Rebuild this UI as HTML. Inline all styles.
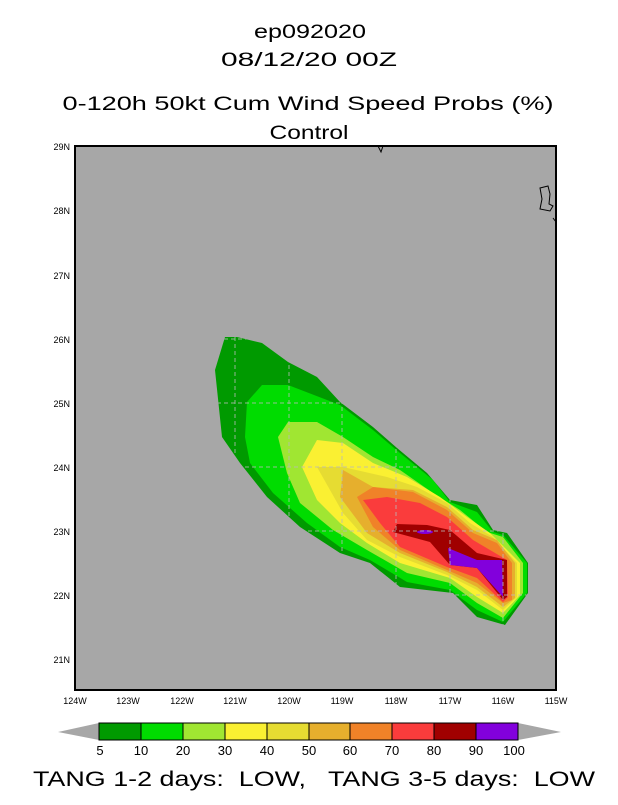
<!DOCTYPE html>
<html><head><style>
body{margin:0;background:#fff;}
svg text{font-family:"Liberation Sans",sans-serif;}
</style></head><body>
<svg width="618" height="800" viewBox="0 0 618 800" xmlns="http://www.w3.org/2000/svg">
<defs>
<clipPath id="c"><polygon points="225,337 237,337 262,343 288,362 317,377 340,402 373,427 397,448 427,473 450,500 477,505 493,530 507,533 528,563 528,593 505,625 477,617 453,593 400,587 370,563 340,553 300,527 267,497 240,463 222,437 215,370"/></clipPath>
</defs>
<rect width="618" height="800" fill="#fff"/>
<g text-anchor="middle" font-size="19" fill="#000" lengthAdjust="spacingAndGlyphs">
<text x="310" y="38" textLength="112" lengthAdjust="spacingAndGlyphs">ep092020</text>
<text x="309" y="66" textLength="176" lengthAdjust="spacingAndGlyphs">08/12/20 00Z</text>
<text x="308" y="110" textLength="491" lengthAdjust="spacingAndGlyphs">0-120h 50kt Cum Wind Speed Probs (%)</text>
<text x="309" y="139" textLength="79" lengthAdjust="spacingAndGlyphs">Control</text>
</g>
<rect x="75" y="146" width="481" height="544" fill="#a7a7a7"/>
<path d="M378,146 l3,6 l2,-6 M540,188 l8,-2 l2,8 l-1,10 l4,2 l-3,5 l-10,-2 l2,-10 z M553,218 l3,4" fill="none" stroke="#000" stroke-width="1"/>
<polygon fill="#009a00" points="225,337 237,337 262,343 288,362 317,377 340,402 373,427 397,448 427,473 450,500 477,505 493,530 507,533 528,563 528,593 505,625 477,617 453,593 400,587 370,563 340,553 300,527 267,497 240,463 222,437 215,370"/>
<polygon fill="#00dc00" points="262,385 288,385 340,405 373,430 400,453 433,480 450,502 477,512 493,532 503,535 527,563 527,593 503,622 477,610 450,590 407,582 370,560 340,547 307,523 273,493 250,463 245,437 247,402"/>
<polygon fill="#a0e632" points="288,422 317,422 343,437 373,457 400,470 433,493 460,510 487,532 503,537 523,563 523,593 503,618 477,603 450,583 407,573 367,550 333,530 300,503 287,473 278,437"/>
<polygon fill="#faf032" points="317,440 343,443 373,463 407,477 440,497 467,517 490,533 520,563 520,595 503,613 477,597 450,578 400,563 367,543 340,523 317,500 302,467"/>
<polygon fill="#e6dc32" points="343,467 387,477 417,487 447,503 470,523 493,537 517,563 517,597 503,610 477,590 447,575 400,557 367,540 343,513 317,467"/>
<polygon fill="#e6af2d" points="343,470 373,487 413,490 447,507 473,530 497,540 515,563 515,598 503,607 477,587 447,572 400,553 367,533 340,497"/>
<polygon fill="#f08228" points="357,497 373,487 413,492 447,510 473,533 497,543 512,563 512,600 503,603 477,583 447,570 400,550 373,527"/>
<polygon fill="#fa3c3c" points="363,500 387,497 420,503 447,517 473,540 507,560 508,597 503,602 477,578 447,567 400,547 380,523"/>
<polygon fill="#a00000" points="397,524 427,525 450,530 477,553 507,560 507,597 503,600 477,568 450,565 430,542 393,532"/>
<polygon fill="#8200dc" points="448,548 477,560 502,560 503,597 477,568 450,565"/>
<ellipse cx="425" cy="532" rx="8" ry="2" fill="#8200dc"/>
<g stroke="#bbbbbb" stroke-width="1" stroke-dasharray="4,3" fill="none" opacity="0.8" clip-path="url(#c)">
<path d="M235,330V640 M289,330V640 M342,330V640 M396,330V640 M450,330V640 M503,330V640"/>
<path d="M210,339H530 M210,403H530 M210,467H530 M210,531H530 M210,595H530"/>
</g>
<rect x="75" y="146" width="481" height="544" fill="none" stroke="#000" stroke-width="2"/>
<g font-size="9" fill="#000" text-anchor="end">
<text x="70" y="150">29N</text><text x="70" y="214">28N</text><text x="70" y="279">27N</text>
<text x="70" y="343">26N</text><text x="70" y="407">25N</text><text x="70" y="471">24N</text>
<text x="70" y="535">23N</text><text x="70" y="599">22N</text><text x="70" y="663">21N</text>
</g>
<g font-size="9" fill="#000" text-anchor="middle">
<text x="75" y="704">124W</text><text x="128" y="704">123W</text><text x="182" y="704">122W</text>
<text x="235" y="704">121W</text><text x="289" y="704">120W</text><text x="342" y="704">119W</text>
<text x="396" y="704">118W</text><text x="450" y="704">117W</text><text x="503" y="704">116W</text>
<text x="556" y="704">115W</text>
</g>
<polygon points="58,732 99,723 99,740" fill="#a7a7a7"/>
<polygon points="561,732 518,723 518,740" fill="#a7a7a7"/>
<g stroke="#000" stroke-width="1">
<rect x="99" y="723" width="42" height="17" fill="#009a00"/>
<rect x="141" y="723" width="42" height="17" fill="#00dc00"/>
<rect x="183" y="723" width="42" height="17" fill="#a0e632"/>
<rect x="225" y="723" width="42" height="17" fill="#faf032"/>
<rect x="267" y="723" width="42" height="17" fill="#e6dc32"/>
<rect x="309" y="723" width="41" height="17" fill="#e6af2d"/>
<rect x="350" y="723" width="42" height="17" fill="#f08228"/>
<rect x="392" y="723" width="42" height="17" fill="#fa3c3c"/>
<rect x="434" y="723" width="42" height="17" fill="#a00000"/>
<rect x="476" y="723" width="42" height="17" fill="#8200dc"/>
</g>
<g font-size="13" fill="#000" text-anchor="middle">
<text x="100" y="755">5</text><text x="141" y="755">10</text><text x="183" y="755">20</text>
<text x="225" y="755">30</text><text x="267" y="755">40</text><text x="309" y="755">50</text>
<text x="350" y="755">60</text><text x="392" y="755">70</text><text x="434" y="755">80</text>
<text x="476" y="755">90</text><text x="514" y="755">100</text>
</g>
<text x="314" y="786" font-size="21" text-anchor="middle" fill="#000" xml:space="preserve" textLength="562" lengthAdjust="spacingAndGlyphs">TANG 1-2 days:  LOW,   TANG 3-5 days:  LOW</text>
</svg>
</body></html>
